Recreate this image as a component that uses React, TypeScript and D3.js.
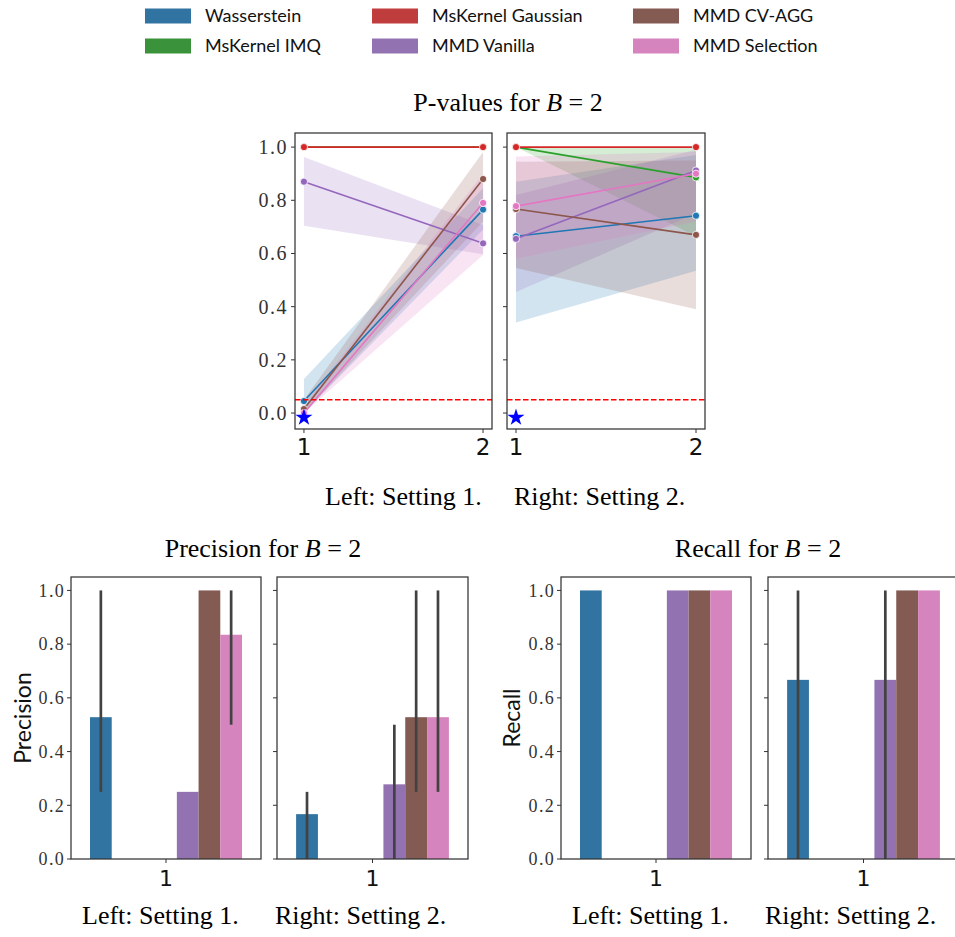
import * as d3 from "d3";

// ---- data ----
const steps = [1, 2];
const lineNames = ["Wasserstein", "MsKernel IMQ", "MsKernel Gaussian", "MMD Vanilla", "MMD CV-AGG", "MMD Selection"];
const lineColors = ["#1f77b4", "#2ca02c", "#d62728", "#9467bd", "#8c564b", "#e377c2"];

// p-values, setting 1 (mean, lower, upper of CI) per method, at B = 1, 2
const s1Mean = [[0.045, 0.765], [1, 1], [1, 1], [0.87, 0.638], [0.015, 0.88], [0.0, 0.79]];
const s1Low = [[0.0, 0.69], [1, 1], [1, 1], [0.704, 0.597], [0.0, 0.72], [0.0, 0.594]];
const s1High = [[0.128, 0.845], [1, 1], [1, 1], [0.963, 0.707], [0.05, 0.982], [0.03, 0.9]];

// p-values, setting 2
const s2Mean = [[0.665, 0.742], [1, 0.886], [1, 1], [0.655, 0.912], [0.767, 0.67], [0.778, 0.9]];
const s2Low = [[0.34, 0.535], [1, 0.665], [1, 1], [0.455, 0.75], [0.545, 0.39], [0.58, 0.72]];
const s2High = [[0.87, 0.97], [1, 1], [1, 1], [0.82, 0.99], [0.945, 0.95], [0.965, 0.982]];

const trueStep = 1;
const trueValue = -0.017;
const alphaLevel = 0.05;

// bar charts: 7 hue slots (orange slot unused)
const barSlots = ["Wasserstein", "unused", "MsKernel IMQ", "MsKernel Gaussian", "MMD Vanilla", "MMD CV-AGG", "MMD Selection"];
const barColors = ["#3274a1", "#e1812c", "#3a923a", "#c03d3e", "#9372b2", "#845b53", "#d684bd"];

const precS1 = [0.528, null, 0, 0, 0.25, 1.0, 0.835];
const precS1Lo = [0.25, null, 0, 0, 0.25, 1.0, 0.5];
const precS1Hi = [1.0, null, 0, 0, 0.25, 1.0, 1.0];
const precS2 = [0.167, null, 0, 0, 0.278, 0.528, 0.528];
const precS2Lo = [0, null, 0, 0, 0, 0.25, 0.25];
const precS2Hi = [0.25, null, 0, 0, 0.5, 1.0, 1.0];

const recS1 = [1, null, 0, 0, 1, 1, 1];
const recS1Lo = [1, null, 0, 0, 1, 1, 1];
const recS1Hi = [1, null, 0, 0, 1, 1, 1];
const recS2 = [0.667, null, 0, 0, 0.667, 1, 1];
const recS2Lo = [0, null, 0, 0, 0, 1, 1];
const recS2Hi = [1, null, 0, 0, 1, 1, 1];

const legendOrder = ["Wasserstein", "MsKernel IMQ", "MsKernel Gaussian", "MMD Vanilla", "MMD CV-AGG", "MMD Selection"];
const pTicks = [0, 0.2, 0.4, 0.6, 0.8, 1.0];

const serif = "'Liberation Serif', 'Times New Roman', serif";
const sans = "Lato, 'DejaVu Sans', sans-serif";
const spine = "#333";

function LinePanel({ x0, x1, mean, low, high, showLabels }) {
  const top = 133, bottom = 429;
  const x = d3.scaleLinear().domain([0.95, 2.05]).range([x0, x1]);
  const y = d3.scaleLinear().domain([-0.06, 1.053]).range([bottom, top]);
  const line = d3.line<number>().x((d, i) => x(steps[i])).y((d) => y(d));
  return (
    <g>
      {mean.map((m, k) => {
        const a = d3
          .area<number>()
          .x((d, i) => x(steps[i]))
          .y0((d, i) => y(low[k][i]))
          .y1((d, i) => y(high[k][i]));
        return <path key={"b" + k} d={a(m) || ""} fill={lineColors[k]} fillOpacity={0.2} stroke="none" />;
      })}
      {mean.map((m, k) => (
        <g key={"l" + k}>
          <path d={line(m) || ""} fill="none" stroke={lineColors[k]} strokeWidth={1.6} />
          {m.map((v, i) => (
            <circle key={i} cx={x(steps[i])} cy={y(v)} r={3.6} fill={lineColors[k]} stroke="#fff" strokeWidth={0.8} />
          ))}
        </g>
      ))}
      <line x1={x0} x2={x1} y1={y(alphaLevel)} y2={y(alphaLevel)} stroke="#ff0000" strokeWidth={1.6} strokeDasharray="5.5,2.5" />
      <path
        d={d3.symbol(d3.symbolStar, 90)() || ""}
        transform={`translate(${x(trueStep)},${y(trueValue)})`}
        fill="#0000ff"
      />
      <rect x={x0} y={top} width={x1 - x0} height={bottom - top} fill="none" stroke={spine} strokeWidth={1.25} />
      {pTicks.map((t) => (
        <g key={t}>
          <line x1={x0 - 4} x2={x0} y1={y(t)} y2={y(t)} stroke={spine} strokeWidth={1} />
          {showLabels && (
            <text x={x0 - 7} y={y(t)} dy="0.35em" textAnchor="end" fontFamily={serif} fontSize={20} letterSpacing={1.5} fill="#333">
              {t.toFixed(1)}
            </text>
          )}
        </g>
      ))}
      {steps.map((s) => (
        <g key={s}>
          <line x1={x(s)} x2={x(s)} y1={bottom} y2={bottom + 4} stroke={spine} strokeWidth={1} />
          <text x={x(s)} y={bottom + 26} textAnchor="middle" fontFamily="'DejaVu Sans', sans-serif" fontSize={23} fill="#111">
            {s}
          </text>
        </g>
      ))}
    </g>
  );
}

function BarPanel({ x0, x1, vals, lo, hi, showLabels }) {
  const top = 577, bottom = 859;
  const xc = d3.scaleLinear().domain([-0.5, 0.5]).range([x0, x1]);
  const band = d3.scaleBand().domain(barSlots).range([xc(-0.4), xc(0.4)]);
  const y = d3.scaleLinear().domain([0, 1.05]).range([bottom, top]);
  return (
    <g>
      {vals.map((v, i) =>
        v === null ? null : (
          <rect key={i} x={band(barSlots[i])} width={band.bandwidth()} y={y(v)} height={y(0) - y(v)} fill={barColors[i]} />
        )
      )}
      {vals.map((v, i) =>
        v === null || lo[i] === hi[i] ? null : (
          <line
            key={"e" + i}
            x1={band(barSlots[i]) + band.bandwidth() / 2}
            x2={band(barSlots[i]) + band.bandwidth() / 2}
            y1={y(lo[i])}
            y2={y(hi[i])}
            stroke="#424242"
            strokeWidth={2.7}
          />
        )
      )}
      <rect x={x0} y={top} width={x1 - x0} height={bottom - top} fill="none" stroke={spine} strokeWidth={1.25} />
      {pTicks.map((t) => (
        <g key={t}>
          <line x1={x0 - 4} x2={x0} y1={y(t)} y2={y(t)} stroke={spine} strokeWidth={1} />
          {showLabels && (
            <text x={x0 - 6} y={y(t)} dy="0.35em" textAnchor="end" fontFamily={serif} fontSize={18} letterSpacing={1.3} fill="#333">
              {t.toFixed(1)}
            </text>
          )}
        </g>
      ))}
      <line x1={xc(0)} x2={xc(0)} y1={bottom} y2={bottom + 4} stroke={spine} strokeWidth={1} />
      <text x={xc(0)} y={bottom + 27} textAnchor="middle" fontFamily="'DejaVu Sans', sans-serif" fontSize={22} fill="#111">
        1
      </text>
    </g>
  );
}

function Title({ x, y, label }) {
  return (
    <text x={x} y={y} textAnchor="middle" fontFamily={serif} fontSize={26} fill="#000">
      {label} for <tspan fontStyle="italic">B</tspan> = 2
    </text>
  );
}

function Caption({ xl, xr, y }) {
  return (
    <g fontFamily={serif} fontSize={26} fill="#000">
      <text x={xl} y={y}>Left: Setting 1.</text>
      <text x={xr} y={y}>Right: Setting 2.</text>
    </g>
  );
}

export default function App() {
  const legendCols = [145, 372, 633];
  const legendRows = [16, 46];
  return (
    <div style={{ position: "absolute", left: 0, top: 0 }}>
      <svg width={955} height={937} style={{ display: "block", background: "#fff" }}>
        {legendOrder.map((name, i) => {
          const cx = legendCols[Math.floor(i / 2)];
          const cy = legendRows[i % 2];
          const slot = barSlots.indexOf(name);
          return (
            <g key={name}>
              <rect x={cx} y={cy - 7.5} width={46} height={15} fill={barColors[slot]} />
              <text x={cx + 60} y={cy} dy="0.35em" fontFamily={sans} fontSize={18} fill="#111">
                {name}
              </text>
            </g>
          );
        })}

        <Title x={508} y={111} label="P-values" />
        <LinePanel x0={295} x1={492} mean={s1Mean} low={s1Low} high={s1High} showLabels={true} />
        <LinePanel x0={507} x1={705} mean={s2Mean} low={s2Low} high={s2High} showLabels={false} />
        <Caption xl={325} xr={514} y={505} />

        <Title x={263} y={557} label="Precision" />
        <BarPanel x0={71} x1={261} vals={precS1} lo={precS1Lo} hi={precS1Hi} showLabels={true} />
        <BarPanel x0={277} x1={468} vals={precS2} lo={precS2Lo} hi={precS2Hi} showLabels={false} />
        <text transform="translate(31,718) rotate(-90)" textAnchor="middle" fontFamily={sans} fontSize={23} fill="#111">
          Precision
        </text>
        <Caption xl={82} xr={275} y={924} />

        <Title x={758} y={557} label="Recall" />
        <BarPanel x0={561} x1={751} vals={recS1} lo={recS1Lo} hi={recS1Hi} showLabels={true} />
        <BarPanel x0={768} x1={959} vals={recS2} lo={recS2Lo} hi={recS2Hi} showLabels={false} />
        <text transform="translate(520,718) rotate(-90)" textAnchor="middle" fontFamily={sans} fontSize={23} fill="#111">
          Recall
        </text>
        <Caption xl={572} xr={765} y={924} />
      </svg>
    </div>
  );
}
